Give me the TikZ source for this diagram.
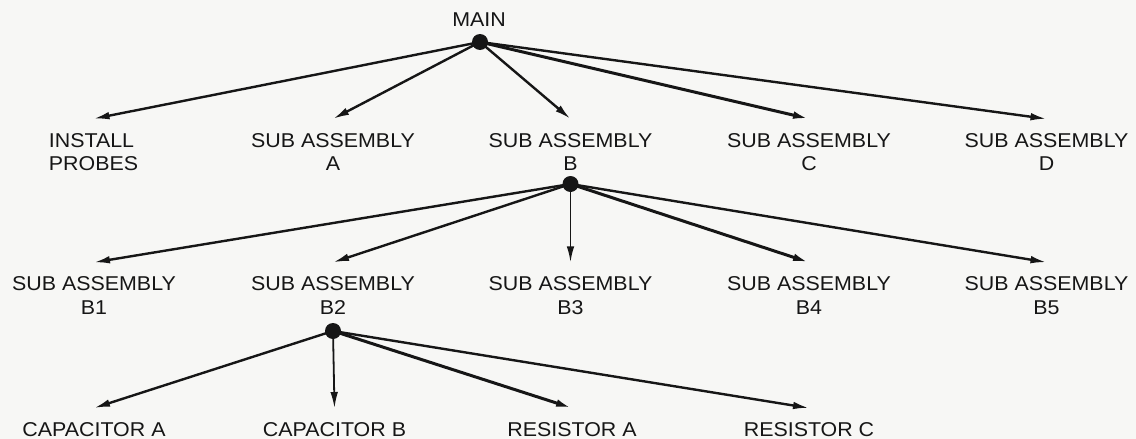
\documentclass[tikz,border=0pt]{standalone}
\usepackage{fontspec}
\setmainfont{Liberation Sans}[FakeStretch=1.07]
\usetikzlibrary{arrows.meta}
\definecolor{bg}{RGB}{247,247,245}
\definecolor{ink}{RGB}{22,22,22}
\begin{document}
\begin{tikzpicture}[x=0.5pt,y=-0.5pt,
  lbl/.style={inner sep=0pt, align=center, font=\fontsize{10pt}{11.75pt}\selectfont, text=ink},
  hub/.style={circle, fill=ink, inner sep=0pt, minimum size=8pt},
  link/.style={draw=ink, line width=1.2pt, -{Latex[length=8pt,width=3.8pt]}},
  heavy/.style={line width=1.5pt},
  lite/.style={line width=0.9pt}]
\fill[bg] (0,0) rectangle (1136,439);
\useasboundingbox (0,0) rectangle (1136,439);

% top
\node[lbl] (main) at (479,20) {MAIN};
\node[hub] (m) at (480,42) {};

% row 1
\node[lbl, align=left] (ip) at (93.5,152) {INSTALL\\PROBES};
\node[lbl] (sa) at (333,152) {SUB ASSEMBLY\\A};
\node[lbl] (sb) at (570.5,152) {SUB ASSEMBLY\\B};
\node[lbl] (sc) at (809,152) {SUB ASSEMBLY\\C};
\node[lbl] (sd) at (1046.5,152) {SUB ASSEMBLY\\D};
\node[hub] (bd) at (570.5,184) {};

% row 2
\node[lbl] (b1) at (94,295.5) {SUB ASSEMBLY\\B1};
\node[lbl] (b2) at (333,295.5) {SUB ASSEMBLY\\B2};
\node[lbl] (b3) at (570.5,295.5) {SUB ASSEMBLY\\B3};
\node[lbl] (b4) at (809,295.5) {SUB ASSEMBLY\\B4};
\node[lbl] (b5) at (1046.5,295.5) {SUB ASSEMBLY\\B5};
\node[hub] (b2d) at (333,331) {};

% row 3
\node[lbl] (ca) at (94,429.5) {CAPACITOR A};
\node[lbl] (cb) at (334.5,429.5) {CAPACITOR B};
\node[lbl] (ra) at (572,429.5) {RESISTOR A};
\node[lbl] (rc) at (809,429.5) {RESISTOR C};

% connectors from MAIN
\draw[link] (m.center) -- ([yshift=7pt]ip.north);
\draw[link] (m.center) -- ([yshift=7pt]sa.north);
\draw[link] (m.center) -- ([yshift=7pt]sb.north);
\draw[link,heavy] (m.center) -- ([yshift=7pt]sc.north);
\draw[link] (m.center) -- ([yshift=7pt]sd.north);

% connectors from B
\draw[link] (bd.center) -- ([yshift=7pt]b1.north);
\draw[link] (bd.center) -- ([yshift=7pt]b2.north);
\draw[link,lite] (bd.center) -- ([yshift=7pt]b3.north);
\draw[link,heavy] (bd.center) -- ([yshift=7pt]b4.north);
\draw[link] (bd.center) -- ([yshift=7pt]b5.north);

% connectors from B2
\draw[link] (b2d.center) -- ([yshift=7pt]ca.north);
\draw[link,lite] (b2d.center) -- ([yshift=7pt]cb.north);
\draw[link,heavy] (b2d.center) -- ([yshift=7pt]ra.north);
\draw[link] (b2d.center) -- ([yshift=7pt]rc.north);
\end{tikzpicture}
\end{document}
